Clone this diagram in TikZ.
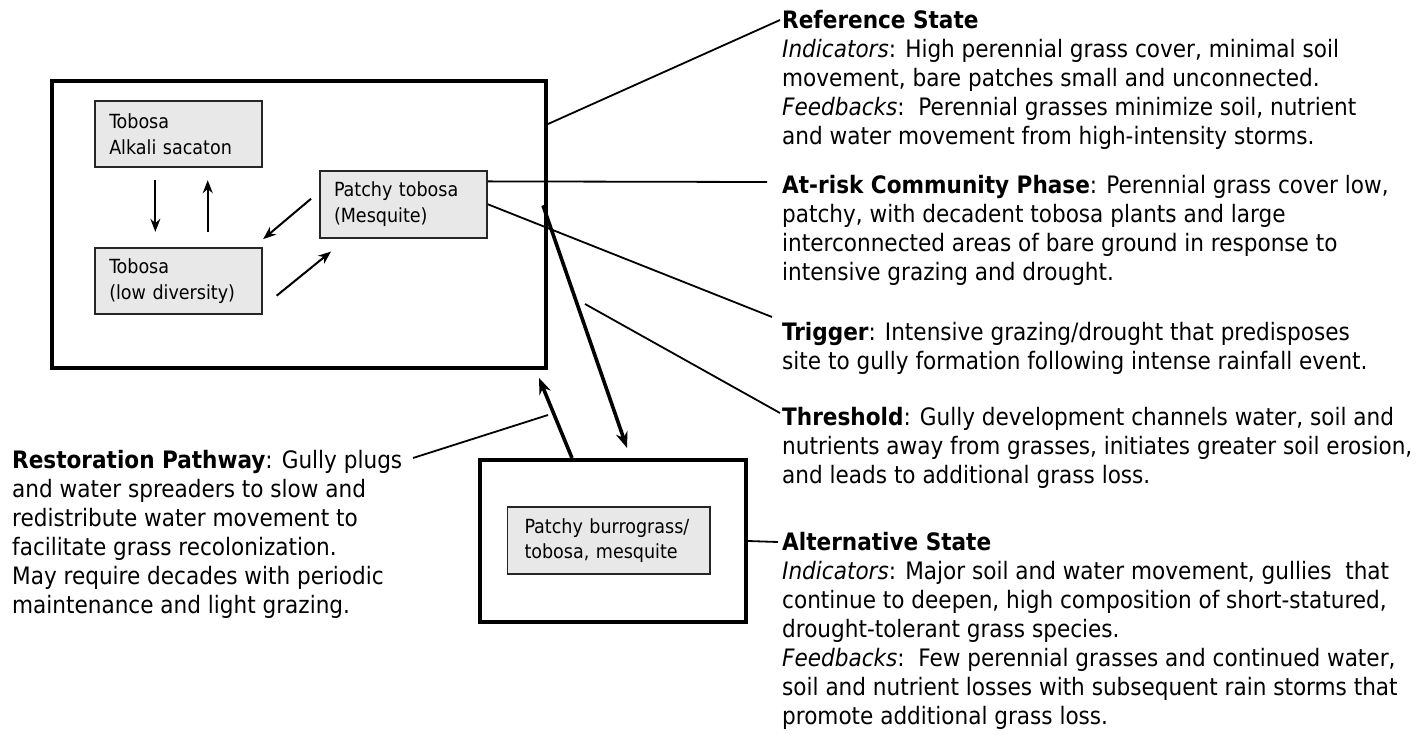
\documentclass[tikz,border=0pt]{standalone}
\usepackage{fontspec}
\setmainfont{DejaVu Sans Condensed}
\usetikzlibrary{arrows.meta, calc}

\tikzset{
  statebox/.style={draw, line width=4pt},
  phase/.style={draw=black!85, line width=1.8pt, fill=black!9,
                inner xsep=14pt, inner ysep=0pt, text width=139pt,
                minimum height=66.6pt, align=left,
                font=\fontsize{19.5}{25.5}\selectfont},
  note/.style={anchor=north west, inner sep=0pt, align=left,
               font=\fontsize{24}{29}\selectfont},
  link/.style={line width=1.8pt},
  phasearrow/.style={line width=2pt, -{Stealth[length=13pt,width=10pt]}},
  statearrow/.style={line width=3.6pt, -{Stealth[length=16pt,width=12pt]}},
}

\begin{document}
\begin{tikzpicture}[x=1pt, y=-1pt]
\useasboundingbox (0,0) rectangle (1427,734);

% states
\node[statebox, minimum width=494pt, minimum height=287pt] (refstate) at (299,224.4) {};
\node[statebox, minimum width=266pt, minimum height=162pt] (altstate) at (613,541) {};

% community phases
\node[phase] (alkali) at (178.75,134) {Tobosa\\Alkali sacaton};
\node[phase] (lowdiv) at (178.75,281) {Tobosa\\(low diversity)};
\node[phase] (patchy) at (403.5,204.3) {Patchy tobosa\\(Mesquite)};
\node[phase, inner xsep=17pt, text width=168.5pt] (burro) at (608.75,540.5) {Patchy burrograss/\\tobosa, mesquite};

% notes
\node[note] (reftext) at (782,10) {\textbf{Reference State}\\
  \textit{Indicators}: High perennial grass cover, minimal soil\\
  movement, bare patches small and unconnected.\\
  \textit{Feedbacks}:\ \ Perennial grasses minimize soil, nutrient\\
  and water movement from high-intensity storms.};
\node[note] (risktext) at (782,175) {\textbf{At-risk Community Phase}: Perennial grass cover low,\\
  patchy, with decadent tobosa plants and large\\
  interconnected areas of bare ground in response to\\
  intensive grazing and drought.};
\node[note] (trigtext) at (782,322) {\textbf{Trigger}: Intensive grazing/drought that predisposes\\
  site to gully formation following intense rainfall event.};
\node[note] (threshtext) at (782,407) {\textbf{Threshold}: Gully development channels water, soil and\\
  nutrients away from grasses, initiates greater soil erosion,\\
  and leads to additional grass loss.};
\node[note] (alttext) at (782,532) {\textbf{Alternative State}\\
  \textit{Indicators}: Major soil and water movement, gullies\ \ that\\
  continue to deepen, high composition of short-statured,\\
  drought-tolerant grass species.\\
  \textit{Feedbacks}:\ \ Few perennial grasses and continued water,\\
  soil and nutrient losses with subsequent rain storms that\\
  promote additional grass loss.};
\node[note] (restext) at (12,450) {\textbf{Restoration Pathway}: Gully plugs\\
  and water spreaders to slow and\\
  redistribute water movement to\\
  facilitate grass recolonization.\\
  May require decades with periodic\\
  maintenance and light grazing.};

% free ends of the pointers
\coordinate (refend) at (780,20);
\coordinate (riskend) at (767,182);
\coordinate (trigend) at (772,317);
\coordinate (threshstart) at (585,304);
\coordinate (threshend) at (780,413);
\coordinate (altend) at (778,542);
\coordinate (resend) at (413,458);
\coordinate (resgap) at (548,415);

% pointers
\draw[link] ($(refstate.north east)!0.155!(refstate.south east)$) -- (refend);
\draw[link] ($(patchy.north east)!0.165!(patchy.south east)$) -- (riskend);
\draw[link] (patchy.east) -- (trigend);
\draw[link] (threshstart) -- (threshend);
\draw[link] (altstate.east) -- (altend);
\draw[link] (resend) -- (resgap);

% transitions between phases
\draw[phasearrow] ($(alkali.south)+(-23.4,12)$) -- ($(lowdiv.north)+(-23.4,-15)$);
\draw[phasearrow] ($(lowdiv.north)+(29,-15)$) -- ($(alkali.south)+(29,12)$);
\draw[phasearrow] ($(patchy.west)+(-8,-5.6)$) -- ($(lowdiv.north east)+(0,-7.7)$);
\draw[phasearrow] ($(lowdiv.east)+(13.5,14.7)$) -- ($(patchy.south west)+(12,13)$);

% transitions between states
\draw[statearrow] ($(refstate.east)+(-5,-19)$) -- ($(altstate.north)+(14,-10)$);
\draw[statearrow] ($(altstate.north)+(-41,0)$) -- ($(refstate.south east)+(-9,8)$);
\end{tikzpicture}
\end{document}
